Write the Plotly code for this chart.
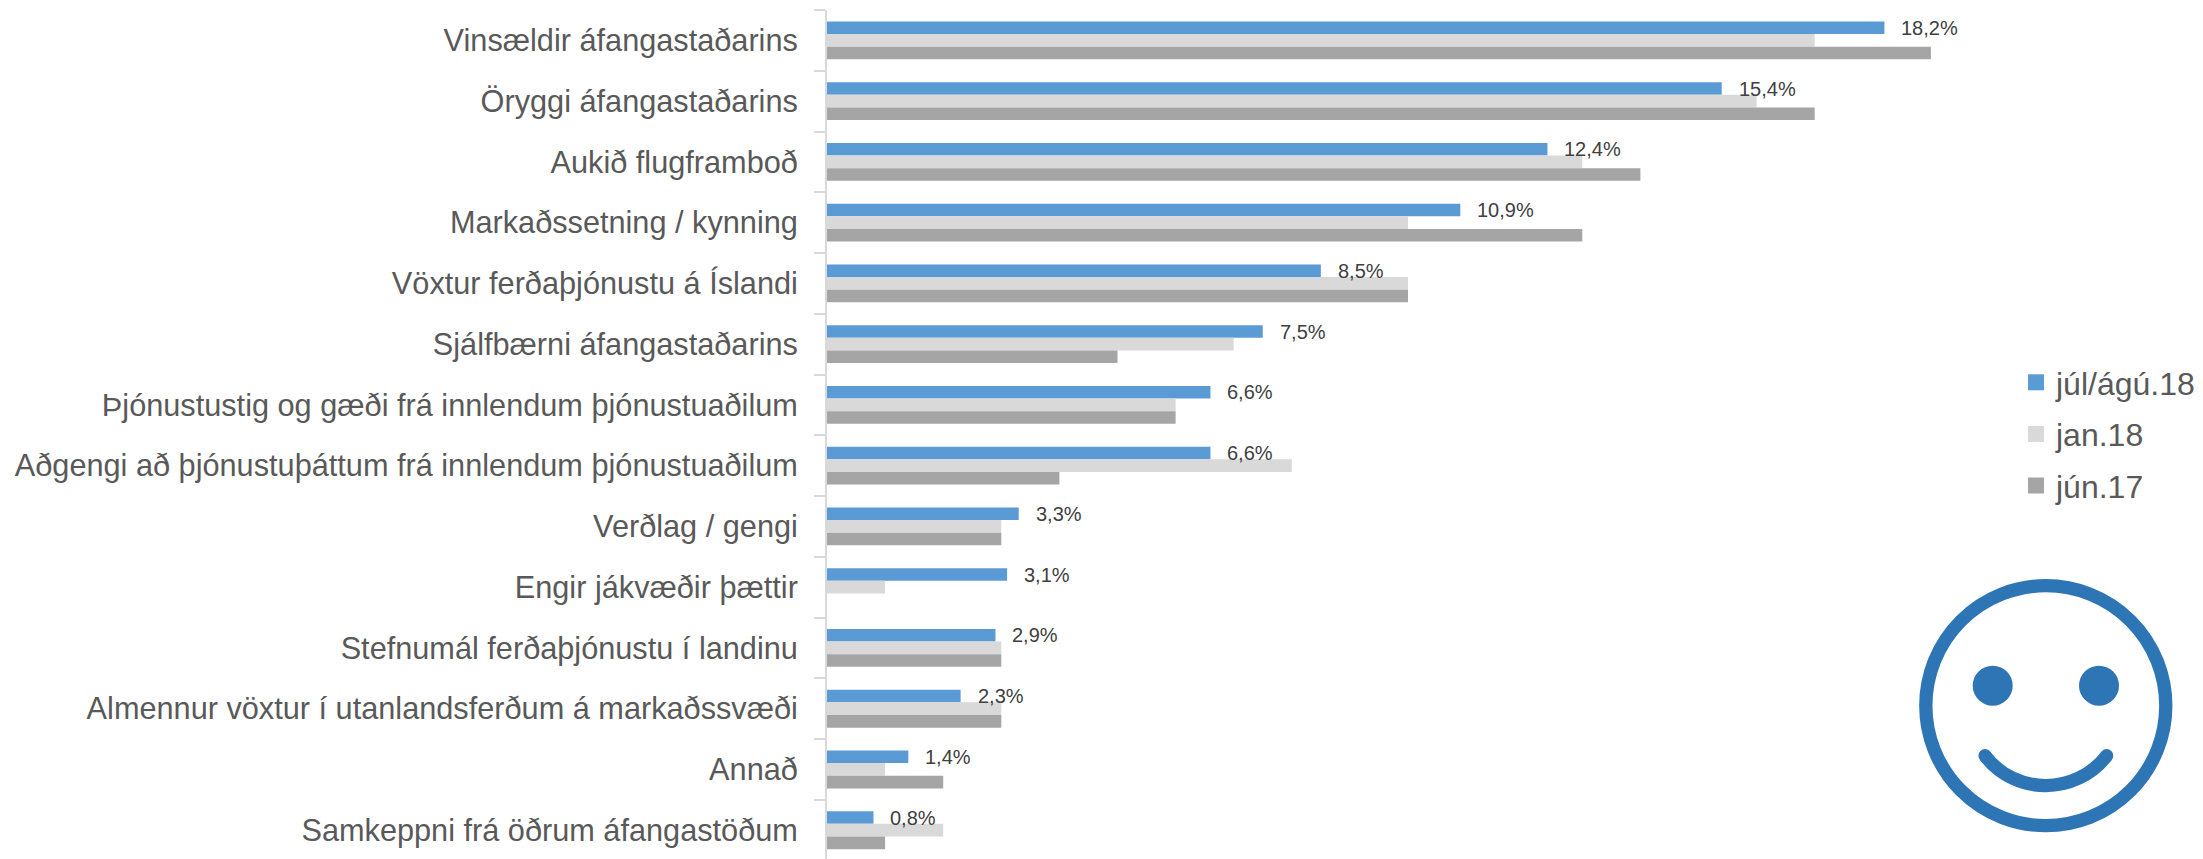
import plotly.graph_objects as go

categories = ["Vinsældir áfangastaðarins", "Öryggi áfangastaðarins", "Aukið flugframboð",
              "Markaðssetning / kynning", "Vöxtur ferðaþjónustu á Íslandi", "Sjálfbærni áfangastaðarins",
              "Þjónustustig og gæði frá innlendum þjónustuaðilum",
              "Aðgengi að þjónustuþáttum frá innlendum þjónustuaðilum",
              "Verðlag / gengi", "Engir jákvæðir þættir", "Stefnumál ferðaþjónustu í landinu",
              "Almennur vöxtur í utanlandsferðum á markaðssvæði", "Annað", "Samkeppni frá öðrum áfangastöðum"]
jul_agu_18 = [18.2, 15.4, 12.4, 10.9, 8.5, 7.5, 6.6, 6.6, 3.3, 3.1, 2.9, 2.3, 1.4, 0.8]
jan_18 = [17, 16, 13, 10, 10, 7, 6, 8, 3, 1, 3, 3, 1, 2]
jun_17 = [19, 17, 14, 13, 10, 5, 6, 4, 3, 0, 3, 3, 2, 1]
series = [("júl/ágú.18", jul_agu_18, "#5B9BD5"), ("jan.18", jan_18, "#D9D9D9"), ("jún.17", jun_17, "#A5A5A5")]

OFF = 8  # page body margin
W, H = 2203 - OFF, 859 - OFF
L, R, T, B = 827 - OFF, 1995 - OFF, 10 - OFF, H
PX_PER_UNIT = 58.1
FONT = "Liberation Sans"

def px(x):
    return (x - OFF - L) / (R - L)
def py(y):
    return 1 - (y - OFF - T) / (B - T)

fig = go.Figure()
for name, vals, col in series:
    fig.add_trace(go.Bar(y=categories, x=vals, name=name, orientation="h",
                         marker=dict(color=col, line_width=0), showlegend=False,
                         hoverinfo="x+y"))
for name, vals, col in series:
    fig.add_trace(go.Scatter(x=[None], y=[None], mode="markers", name=name, legendgroup=name,
                             marker=dict(symbol="square", size=17, color=col)))

ann = [dict(x=v, y=c, xref="x", yref="y", text=f"{v:.1f}%".replace(".", ","), showarrow=False,
            xanchor="left", yanchor="middle", xshift=15, yshift=12.5,
            font=dict(family=FONT, size=20, color="#404040"))
       for c, v in zip(categories, jul_agu_18)]

SM = "#2E75B6"
cx, cy, r = 2045.8, 705.7, 120
shapes = [
    dict(type="circle", xref="paper", yref="paper", x0=px(cx - r), x1=px(cx + r), y0=py(cy + r), y1=py(cy - r),
         line=dict(color=SM, width=13.3), fillcolor="rgba(0,0,0,0)"),
]
for ex in (1992.7, 2099):
    shapes.append(dict(type="circle", xref="paper", yref="paper", x0=px(ex - 20), x1=px(ex + 20),
                       y0=py(685.7 + 20), y1=py(685.7 - 20), line_width=0, fillcolor=SM))
for ex in (1985, 2106.7):
    shapes.append(dict(type="circle", xref="paper", yref="paper", x0=px(ex - 6.6), x1=px(ex + 6.6),
                       y0=py(755.7 + 6.6), y1=py(755.7 - 6.6), line_width=0, fillcolor=SM))
shapes.append(dict(type="path", xref="paper", yref="paper",
                   path=f"M {px(1985)} {py(755.7)} C {px(2015)} {py(795.5)} {px(2076)} {py(795.5)} {px(2106.7)} {py(755.7)}",
                   line=dict(color=SM, width=13.3), fillcolor="rgba(0,0,0,0)"))

fig.update_layout(
    width=W, height=H, autosize=False, paper_bgcolor="white", plot_bgcolor="white",
    margin=dict(l=L, r=W - R, t=T, b=0, pad=0),
    barmode="group", bargap=0.375, bargroupgap=0,
    font=dict(family=FONT, color="#595959"),
    xaxis=dict(range=[0, (R - L) / PX_PER_UNIT], visible=False, fixedrange=True),
    yaxis=dict(type="category", categoryorder="array", categoryarray=categories,
               range=[13.475, -0.5], showline=True, linecolor="#D9D9D9", linewidth=2,
               ticks="outside", ticklen=11, tickwidth=2, tickcolor="#D9D9D9", tickson="boundaries",
               ticklabelstandoff=21, showgrid=False, zeroline=False,
               tickfont=dict(family=FONT, size=30.7, color="#595959")),
    legend=dict(x=px(2016), y=py(355), xanchor="left", yanchor="top", orientation="v",
                font=dict(family=FONT, size=32, color="#595959"),
                tracegroupgap=7, itemsizing="trace", bgcolor="rgba(0,0,0,0)"),
    annotations=ann, shapes=shapes,
)
fig.write_html("out.html")
